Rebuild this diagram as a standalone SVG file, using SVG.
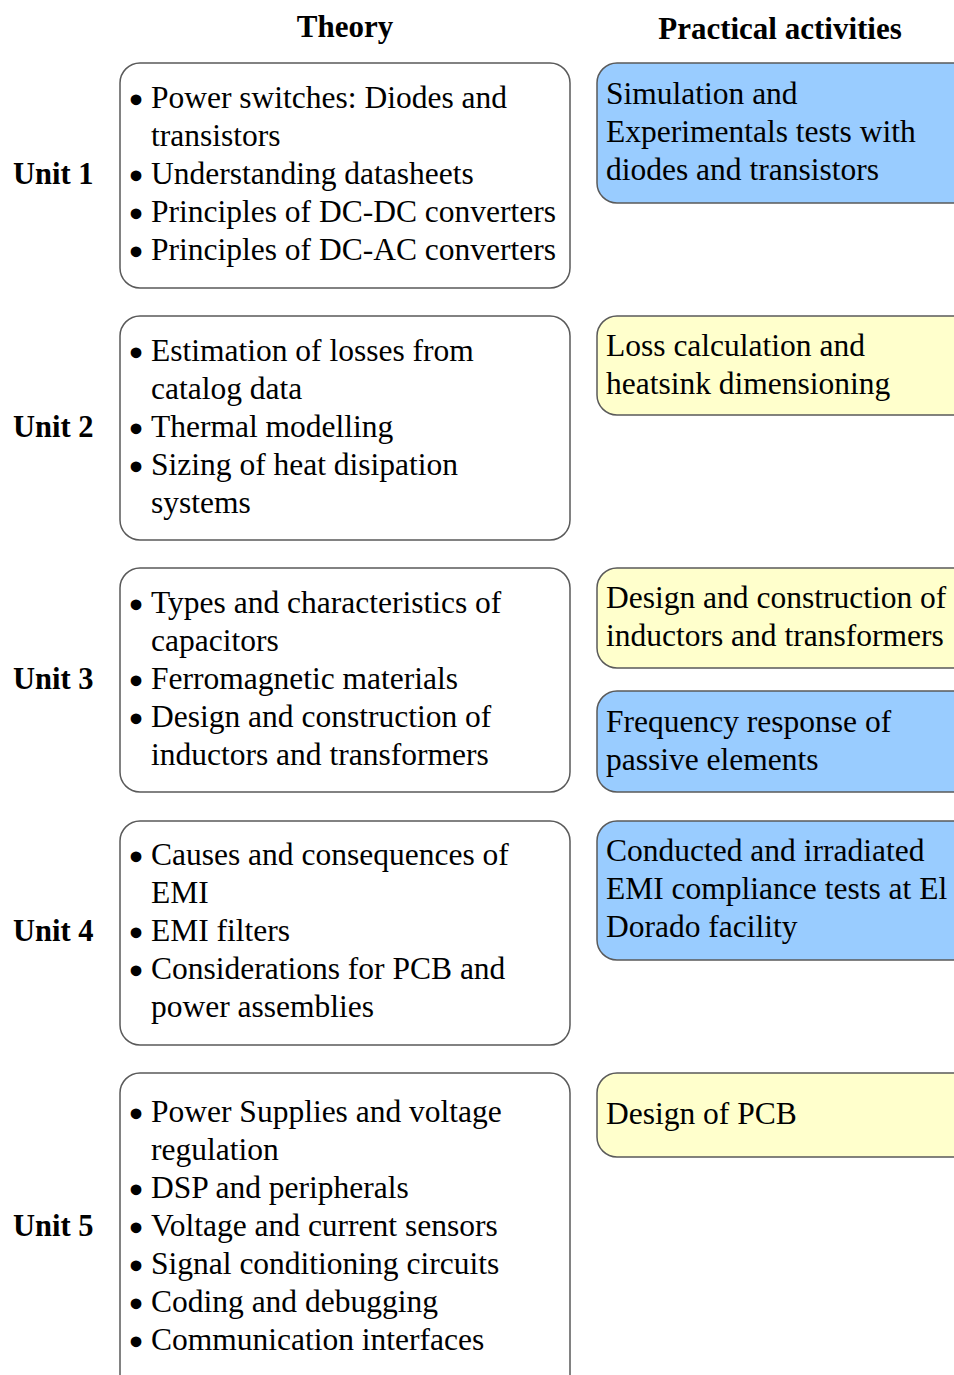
<svg xmlns="http://www.w3.org/2000/svg" width="954" height="1375" viewBox="0 0 954 1375">
<style>
text{font-family:"Liberation Serif","Times New Roman",serif;fill:#000}
.h{font-size:31px;font-weight:bold}
.u{font-size:30.5px;font-weight:bold}
.t{font-size:31.5px}
.b{stroke:#000;stroke-width:3.2;stroke-linejoin:round}
.box{stroke:#5a5a5a;stroke-width:1.5}
.th{fill:#fff}
.bl{fill:#99ccff}
.ye{fill:#ffffcc}
</style>
<rect width="954" height="1375" fill="#fff"/>
<g id="headers">
<text class="h" x="345" y="37" text-anchor="middle">Theory</text>
<text class="h" x="780" y="39" text-anchor="middle">Practical activities</text>
</g>
<g id="labels">
<text class="u" x="13" y="184">Unit 1</text>
<text class="u" x="13" y="437">Unit 2</text>
<text class="u" x="13" y="689">Unit 3</text>
<text class="u" x="13" y="941">Unit 4</text>
<text class="u" x="13" y="1236">Unit 5</text>
</g>
<g id="theory1">
<rect class="box th" x="120" y="63" width="450" height="225" rx="20"/>
<text class="t"><tspan class="b" x="130.5" y="111">•</tspan><tspan x="151" y="108">Power switches: Diodes and</tspan><tspan x="151" y="146">transistors</tspan><tspan class="b" x="130.5" y="187">•</tspan><tspan x="151" y="184">Understanding datasheets</tspan><tspan class="b" x="130.5" y="225">•</tspan><tspan x="151" y="222">Principles of DC-DC converters</tspan><tspan class="b" x="130.5" y="263">•</tspan><tspan x="151" y="260">Principles of DC-AC converters</tspan></text>
</g>
<g id="theory2">
<rect class="box th" x="120" y="316" width="450" height="224" rx="20"/>
<text class="t"><tspan class="b" x="130.5" y="364">•</tspan><tspan x="151" y="361">Estimation of losses from</tspan><tspan x="151" y="399">catalog data</tspan><tspan class="b" x="130.5" y="440">•</tspan><tspan x="151" y="437">Thermal modelling</tspan><tspan class="b" x="130.5" y="478">•</tspan><tspan x="151" y="475">Sizing of heat disipation</tspan><tspan x="151" y="513">systems</tspan></text>
</g>
<g id="theory3">
<rect class="box th" x="120" y="568" width="450" height="224" rx="20"/>
<text class="t"><tspan class="b" x="130.5" y="616">•</tspan><tspan x="151" y="613">Types and characteristics of</tspan><tspan x="151" y="651">capacitors</tspan><tspan class="b" x="130.5" y="692">•</tspan><tspan x="151" y="689">Ferromagnetic materials</tspan><tspan class="b" x="130.5" y="730">•</tspan><tspan x="151" y="727">Design and construction of</tspan><tspan x="151" y="765">inductors and transformers</tspan></text>
</g>
<g id="theory4">
<rect class="box th" x="120" y="821" width="450" height="224" rx="20"/>
<text class="t"><tspan class="b" x="130.5" y="868">•</tspan><tspan x="151" y="865">Causes and consequences of</tspan><tspan x="151" y="903">EMI</tspan><tspan class="b" x="130.5" y="944">•</tspan><tspan x="151" y="941">EMI filters</tspan><tspan class="b" x="130.5" y="982">•</tspan><tspan x="151" y="979">Considerations for PCB and</tspan><tspan x="151" y="1017">power assemblies</tspan></text>
</g>
<g id="theory5">
<rect class="box th" x="120" y="1073" width="450" height="340" rx="20"/>
<text class="t"><tspan class="b" x="130.5" y="1125">•</tspan><tspan x="151" y="1122">Power Supplies and voltage</tspan><tspan x="151" y="1160">regulation</tspan><tspan class="b" x="130.5" y="1201">•</tspan><tspan x="151" y="1198">DSP and peripherals</tspan><tspan class="b" x="130.5" y="1239">•</tspan><tspan x="151" y="1236">Voltage and current sensors</tspan><tspan class="b" x="130.5" y="1277">•</tspan><tspan x="151" y="1274">Signal conditioning circuits</tspan><tspan class="b" x="130.5" y="1315">•</tspan><tspan x="151" y="1312">Coding and debugging</tspan><tspan class="b" x="130.5" y="1353">•</tspan><tspan x="151" y="1350">Communication interfaces</tspan></text>
</g>
<g id="practical1">
<rect class="box bl" x="597" y="63" width="380" height="140" rx="20"/>
<text class="t"><tspan x="606" y="104">Simulation and</tspan><tspan x="606" y="142">Experimentals tests with</tspan><tspan x="606" y="180">diodes and transistors</tspan></text>
</g>
<g id="practical2">
<rect class="box ye" x="597" y="316" width="380" height="99" rx="20"/>
<text class="t"><tspan x="606" y="356">Loss calculation and</tspan><tspan x="606" y="394">heatsink dimensioning</tspan></text>
</g>
<g id="practical3a">
<rect class="box ye" x="597" y="568" width="380" height="100" rx="20"/>
<text class="t"><tspan x="606" y="608">Design and construction of</tspan><tspan x="606" y="646">inductors and transformers</tspan></text>
</g>
<g id="practical3b">
<rect class="box bl" x="597" y="691" width="380" height="101" rx="20"/>
<text class="t"><tspan x="606" y="732">Frequency response of</tspan><tspan x="606" y="770">passive elements</tspan></text>
</g>
<g id="practical4">
<rect class="box bl" x="597" y="821" width="380" height="139" rx="20"/>
<text class="t"><tspan x="606" y="861">Conducted and irradiated</tspan><tspan x="606" y="899">EMI compliance tests at El</tspan><tspan x="606" y="937">Dorado facility</tspan></text>
</g>
<g id="practical5">
<rect class="box ye" x="597" y="1073" width="380" height="84" rx="20"/>
<text class="t"><tspan x="606" y="1124">Design of PCB</tspan></text>
</g>
<g id="connectors"></g>
</svg>
